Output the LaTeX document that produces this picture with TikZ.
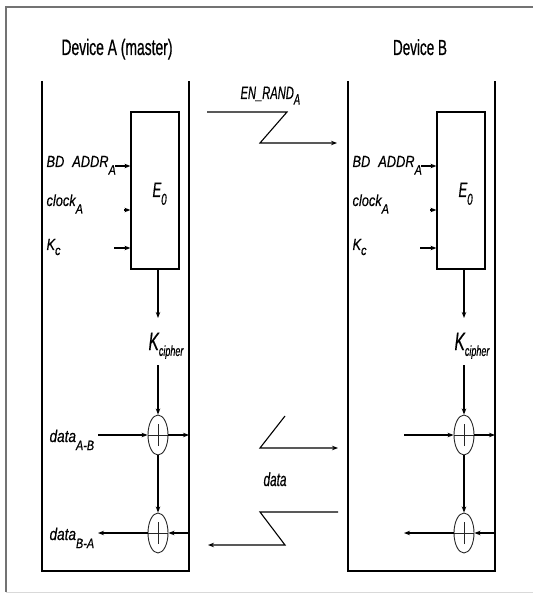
\documentclass[tikz,border=0pt]{standalone}
\usepackage{fontspec}
\usepackage{graphicx}
\setmainfont{Liberation Sans}
\newfontfamily\ftitle[FakeStretch=0.62,FakeBold=0.6]{Liberation Sans}
\newfontfamily\flab[FakeStretch=0.8,FakeBold=0.4]{Liberation Sans}
\newfontfamily\fnar[FakeStretch=0.62,FakeBold=0.4]{Liberation Sans}
\usetikzlibrary{arrows.meta,shapes.geometric}
\newcommand\lsb[3][0.85]{\raisebox{#2}{\scalebox{#1}{#3}}}
\begin{document}
\begin{tikzpicture}[x=1pt,y=-1pt,line width=1.1pt,
  >={Stealth[length=6pt,width=4.5pt]},
  ttl/.style={font=\ftitle\fontsize{23}{23}\selectfont, inner sep=0pt, anchor=base},
  lab/.style={font=\flab\itshape\fontsize{16}{16}\selectfont, inner sep=0pt, anchor=base west},
  nar/.style={font=\fnar\itshape\fontsize{20}{20}\selectfont, inner sep=0pt, anchor=base west},
  devline/.style={line width=1.3pt},
  ebox/.style={draw, line width=1.2pt, minimum width=48pt, minimum height=157pt, inner sep=0pt},
  xorn/.style={ellipse, draw, line width=0.9pt, draw=black!85, minimum width=20pt, minimum height=40pt, inner sep=0pt,
    path picture={\draw[line width=0.8pt] ([yshift=-11pt]path picture bounding box.center) -- ([yshift=11pt]path picture bounding box.center);
                  \draw[line width=0.8pt] (path picture bounding box.west) -- (path picture bounding box.east);}},
]
\useasboundingbox (0,0) rectangle (533,593);
% outer frame
\draw[black!55, line width=1.6pt] (533,7) -- (6,7) -- (6,592);
\draw[black!15, line width=1pt] (6,592) -- (533,592);
% titles
\node[ttl] (tA) at (117,55) {\resizebox{111pt}{!}{Device A (master)}};
\node[ttl] (tB) at (420,55) {\resizebox{54pt}{!}{Device B}};
% device bodies
\foreach \p/\dx in {A/0,B/306}{
\begin{scope}[xshift=\dx]
  \draw[devline] (42,81) -- (42,571) -- (189,571) -- (189,81);
  \node[ebox] (E\p) at (155,190.5) {};
  \node[nar, font=\fnar\itshape\fontsize{21}{21}\selectfont] (El\p) at (152,197) {E\lsb[0.75]{-0.7ex}{0}};
  \node[lab] (bd\p) at (46,167) {BD\enspace ADDR\lsb{-0.9ex}{A}};
  \node[lab] (ck\p) at (46,206) {clock\lsb{-0.9ex}{A}};
  \node[lab] (kc\p) at (46,250) {K\lsb{-0.6ex}{c}};
  \coordinate (ibd\p) at (115,166);
  \coordinate (ick\p) at (124,210);
  \coordinate (ikc\p) at (114,248);
  \draw[->] (ibd\p) -- (ibd\p -| E\p.west);
  \draw[->] (ick\p) -- (ick\p -| E\p.west);
  \draw[->] (ikc\p) -- (ikc\p -| E\p.west);
  \node[nar, font=\fnar\itshape\fontsize{25}{25}\selectfont] (kci\p) at (148,350) {K\lsb[0.58]{-0.45ex}{cipher}};
  \coordinate (kin\p) at (158,318);
  \coordinate (kout\p) at (158,365);
  \draw[->] (E\p.south -| kin\p) -- (kin\p);
  \node[xorn] (x1\p) at (158,435) {};
  \node[xorn] (x2\p) at (158,533) {};
  \draw[->] (kout\p) -- (x1\p.north);
  \draw[->] (x1\p.south) -- (x2\p.north);
  \coordinate (inL\p) at (98,435);
  \coordinate (outR\p) at (189,435);
  \coordinate (inR\p) at (189,533);
  \coordinate (outL\p) at (98,533);
  \draw[->] (inL\p) -- (x1\p.west);
  \draw[->] (x1\p.east) -- (outR\p);
  \draw[->] (inR\p) -- (x2\p.east);
  \draw[->] (x2\p.west) -- (outL\p);
\end{scope}
}
% data labels of device A
\node[lab, font=\flab\itshape\fontsize{17}{17}\selectfont] (dAB) at (49,442) {data\lsb[0.8]{-0.9ex}{A-B}};
\node[lab, font=\flab\itshape\fontsize{17}{17}\selectfont] (dBA) at (49,540) {data\lsb[0.8]{-0.9ex}{B-A}};
% EN_RAND link
\node[nar, font=\fnar\itshape\fontsize{18}{18}\selectfont] (en) at (240,99) {EN\_RAND\lsb{-0.6ex}{A}};
\coordinate (z1) at (207,112);
\coordinate (z2) at (287,112);
\coordinate (z3) at (260,143);
\coordinate (z4) at (337,143);
\draw[->] (z1) -- (z2) -- (z3) -- (z4);
% data link
\node[nar, font=\fnar\itshape\fontsize{19}{19}\selectfont] (dm) at (263,486) {data};
\coordinate (u1) at (285,416);
\coordinate (u2) at (260,448);
\coordinate (u3) at (338,448);
\draw[->] (u1) -- (u2) -- (u3);
\coordinate (l1) at (338,512);
\coordinate (l2) at (260,512);
\coordinate (l3) at (285,545);
\coordinate (l4) at (208,545);
\draw[->] (l1) -- (l2) -- (l3) -- (l4);
\end{tikzpicture}
\end{document}
